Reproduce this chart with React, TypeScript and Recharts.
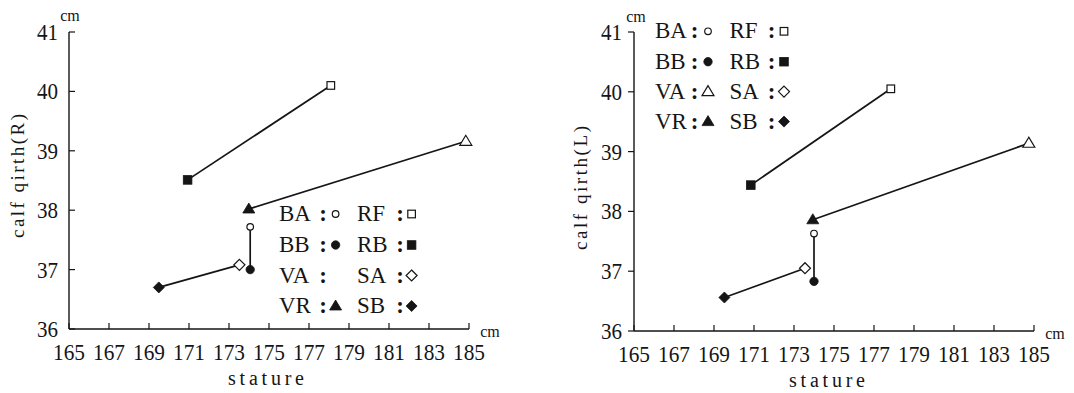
import React from "react";
import { Scatter, ScatterChart, XAxis, YAxis } from "recharts";

// values (stature cm, calf girth cm)
const pairs = [
  ["RB", "RF"],
  ["VR", "VA"],
  ["BA", "BB"],
  ["SB", "SA"],
];

const statureR: Record<string, number> = {
  RB: 170.93, RF: 178.09, VR: 173.99, VA: 184.84,
  BA: 174.06, BB: 174.06, SB: 169.49, SA: 173.52,
};
const girthR: Record<string, number> = {
  RB: 38.51, RF: 40.1, VR: 38.02, VA: 39.16,
  BA: 37.72, BB: 37.0, SB: 36.7, SA: 37.08,
};

const statureL: Record<string, number> = {
  RB: 170.84, RF: 177.84, VR: 173.94, VA: 184.74,
  BA: 174.0, BB: 174.0, SB: 169.52, SA: 173.55,
};
const girthL: Record<string, number> = {
  RB: 38.44, RF: 40.05, VR: 37.86, VA: 39.14,
  BA: 37.63, BB: 36.83, SB: 36.56, SA: 37.05,
};

const xTicks = [165, 167, 169, 171, 173, 175, 177, 179, 181, 183, 185];
const yTicks = [36, 37, 38, 39, 40, 41];

const legendRows = [
  ["BA", "RF"],
  ["BB", "RB"],
  ["VA", "SA"],
  ["VR", "SB"],
];

const INK = "#151515";
const SERIF = "'Liberation Serif', 'DejaVu Serif', serif";

function Marker({ code, cx, cy }: { code: string; cx: number; cy: number }) {
  const open = { fill: "#fff", stroke: INK, strokeWidth: 1.2 };
  const solid = { fill: INK, stroke: INK, strokeWidth: 0.8 };
  switch (code) {
    case "BA":
      return <circle cx={cx} cy={cy} r={3.3} {...open} />;
    case "BB":
      return <circle cx={cx} cy={cy} r={4.2} {...solid} />;
    case "VA":
    case "VR":
      return (
        <polygon
          points={`${cx},${cy - 6} ${cx - 6},${cy + 4} ${cx + 6},${cy + 4}`}
          {...(code === "VA" ? open : solid)}
        />
      );
    case "RF":
      return <rect x={cx - 3.8} y={cy - 3.8} width={7.6} height={7.6} {...open} />;
    case "RB":
      return <rect x={cx - 4.3} y={cy - 4.3} width={8.6} height={8.6} {...solid} />;
    default:
      return (
        <polygon
          points={`${cx},${cy - 5.5} ${cx + 5.5},${cy} ${cx},${cy + 5.5} ${cx - 5.5},${cy}`}
          {...(code === "SA" ? open : solid)}
        />
      );
  }
}

const XTick = ({ x, y, payload }: any) => (
  <g>
    <line x1={x} x2={x} y1={y} y2={y - 6} stroke={INK} strokeWidth={1.2} />
    <text
      x={x}
      y={y + 31}
      textAnchor="middle"
      fontSize={24}
      fontFamily={SERIF}
      textLength={32}
      lengthAdjust="spacingAndGlyphs"
      fill={INK}
    >
      {payload.value}
    </text>
  </g>
);

const makeYTick = (inward: boolean) => ({ x, y, payload }: any) => (
  <g>
    <line x1={x} x2={inward ? x + 6 : x - 6} y1={y} y2={y} stroke={INK} strokeWidth={1.2} />
    <text
      x={inward ? x - 11 : x - 12}
      y={y + 8}
      textAnchor="end"
      fontSize={24}
      fontFamily={SERIF}
      textLength={21}
      lengthAdjust="spacingAndGlyphs"
      fill={INK}
    >
      {payload.value}
    </text>
  </g>
);

type Layout = {
  yWidth: number;
  right: number;
  xHeight: number;
  inward: boolean;
  title: string;
  titleX: number;
  titleY: number;
  statureX: number;
  statureY: number;
  cmTop: [number, number];
  cmEnd: [number, number];
  legendX: number[]; // text1, colon1, icon1, text2, colon2, icon2
  legendY: number[];
  noIcon: string[];
};

function Panel({
  stature,
  girth,
  lay,
}: {
  stature: Record<string, number>;
  girth: Record<string, number>;
  lay: Layout;
}) {
  const [t1, c1, i1, t2, c2, i2] = lay.legendX;
  return (
    <div style={{ position: "relative", width: 537, height: 393 }}>
      <ScatterChart
        width={537}
        height={393}
        margin={{ top: 32, right: lay.right, bottom: 0, left: 0 }}
      >
        <XAxis
          type="number"
          dataKey="x"
          domain={[165, 185]}
          ticks={xTicks}
          interval={0}
          height={lay.xHeight}
          tickSize={0}
          tickMargin={0}
          tick={XTick}
          axisLine={{ stroke: INK, strokeWidth: 1.4 }}
        />
        <YAxis
          type="number"
          dataKey="y"
          domain={[36, 41]}
          ticks={yTicks}
          interval={0}
          width={lay.yWidth}
          tickSize={0}
          tickMargin={0}
          tick={makeYTick(lay.inward)}
          axisLine={{ stroke: INK, strokeWidth: 1.4 }}
        />
        {pairs.map((pair) => (
          <Scatter
            key={pair.join("-")}
            data={pair.map((code) => ({ code, x: stature[code], y: girth[code] }))}
            line={{ stroke: INK, strokeWidth: 1.7 }}
            lineType="joint"
            shape={(p: any) => <Marker code={p.payload.code} cx={p.cx} cy={p.cy} />}
            isAnimationActive={false}
          />
        ))}
      </ScatterChart>
      <svg
        width={537}
        height={393}
        style={{ position: "absolute", left: 0, top: 0, pointerEvents: "none" }}
      >
        <text
          transform={`translate(${lay.titleX},${lay.titleY}) rotate(-90)`}
          textAnchor="middle"
          dominantBaseline="central"
          fontSize={19}
          fontFamily={SERIF}
          textLength={124}
          lengthAdjust="spacing"
          fill={INK}
        >
          {lay.title}
        </text>
        <text
          x={lay.statureX}
          y={lay.statureY}
          textAnchor="middle"
          dominantBaseline="central"
          fontSize={20}
          fontFamily={SERIF}
          textLength={76}
          lengthAdjust="spacing"
          fill={INK}
        >
          stature
        </text>
        <text x={lay.cmTop[0]} y={lay.cmTop[1]} textAnchor="middle" dominantBaseline="central" fontSize={16} fontFamily={SERIF} fill={INK}>
          cm
        </text>
        <text x={lay.cmEnd[0]} y={lay.cmEnd[1]} textAnchor="middle" dominantBaseline="central" fontSize={16} fontFamily={SERIF} fill={INK}>
          cm
        </text>
        {legendRows.map((row, r) => {
          const cy = lay.legendY[r];
          return (
            <g key={row.join("")} fontFamily={SERIF} fontSize={23} fill={INK}>
              <text x={t1} y={cy + 8}>{row[0]}</text>
              <text x={c1} y={cy + 8} textAnchor="middle" fontWeight="bold">:</text>
              {!lay.noIcon.includes(row[0]) && <Marker code={row[0]} cx={i1} cy={cy + 1} />}
              <text x={t2} y={cy + 8}>{row[1]}</text>
              <text x={c2} y={cy + 8} textAnchor="middle" fontWeight="bold">:</text>
              {!lay.noIcon.includes(row[1]) && <Marker code={row[1]} cx={i2} cy={cy + 1} />}
            </g>
          );
        })}
      </svg>
    </div>
  );
}

const leftLayout: Layout = {
  yWidth: 69,
  right: 68,
  xHeight: 64,
  inward: true,
  title: "calf qirth(R)",
  titleX: 17,
  titleY: 176,
  statureX: 266,
  statureY: 378,
  cmTop: [70, 15],
  cmEnd: [490, 331],
  legendX: [279, 323, 335.6, 357, 400, 411.6],
  legendY: [213, 244, 274.5, 305],
  noIcon: ["VA"],
};

const rightLayout: Layout = {
  yWidth: 97,
  right: 40,
  xHeight: 62,
  inward: false,
  title: "calf qirth(L)",
  titleX: 43,
  titleY: 188,
  statureX: 290,
  statureY: 380,
  cmTop: [99, 16],
  cmEnd: [518, 333],
  legendX: [118, 157.5, 171, 192.5, 234.5, 247],
  legendY: [30.3, 60.7, 90.6, 120.6],
  noIcon: [],
};

export default function App() {
  return (
    <div
      style={{
        position: "absolute",
        left: 0,
        top: 0,
        width: 1074,
        height: 393,
        background: "#fff",
        display: "flex",
      }}
    >
      <Panel stature={statureR} girth={girthR} lay={leftLayout} />
      <Panel stature={statureL} girth={girthL} lay={rightLayout} />
    </div>
  );
}
